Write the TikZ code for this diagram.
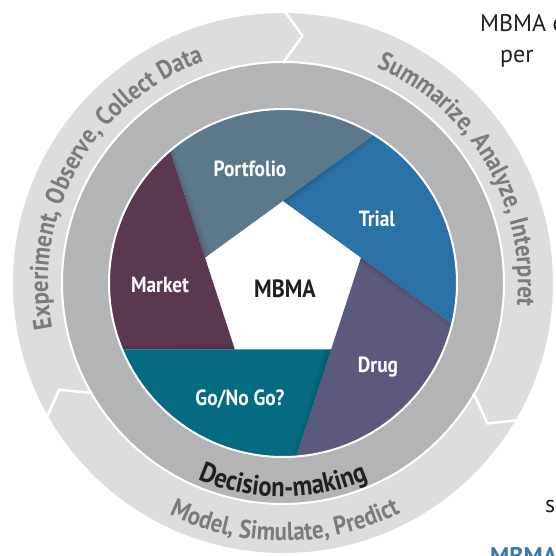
\documentclass[tikz,border=0pt]{standalone}
\usepackage{fontspec}
\setmainfont{PT Sans}
\newfontfamily\bladefont[FakeStretch=0.88]{PT Sans}
\usetikzlibrary{decorations.text}
\definecolor{lightring}{HTML}{DCDDDE}
\definecolor{grayring}{HTML}{B3B4B6}
\definecolor{portfolio}{HTML}{5B798A}
\definecolor{trial}{HTML}{2A71A6}
\definecolor{drug}{HTML}{5A5A7D}
\definecolor{gonogo}{HTML}{046B80}
\definecolor{market}{HTML}{5A3850}
\definecolor{ringtext}{HTML}{7A7B7D}
\definecolor{textblack}{HTML}{231F20}
\definecolor{mbmablue}{HTML}{3B78AE}
\newcommand{\ringfont}{\bladefont\fontsize{26}{26}\selectfont\bfseries\color{ringtext}}
\newcommand{\decfont}{\bladefont\fontsize{28}{28}\selectfont\bfseries\color{textblack}}

\begin{document}
\begin{tikzpicture}[x=1pt,y=1pt]
	\useasboundingbox (-283,-273) rectangle (272,283);
	\clip (-283,-273) rectangle (272,283);
	\tikzstyle{BladeLabel}=[white,inner sep=0,anchor=base,font=\bladefont\fontsize{22}{22}\selectfont\bfseries]
	\tikzstyle{SideText}=[inner sep=0,anchor=base west,text=textblack,font=\fontsize{24}{24}\selectfont]
	\tikzstyle{RingText}=[decorate,decoration={text along path,text align=center}]
	\fill[lightring] (0,0) circle (270);
	\filldraw[grayring,draw=white,line width=2] (0,0) circle (221);
	\fill[white] (0,0) circle (174);
	\foreach \v/\c in {162/portfolio,90/trial,18/drug,-54/gonogo,-126/market}{
		\fill[\c] (\v:82) -- (\v-103.6:174) arc[start angle=\v-103.6,end angle=\v-31.6,radius=174] -- cycle;
		\begin{scope}
			\clip (\v:82) -- (\v-103.6:174) arc[start angle=\v-103.6,end angle=\v-31.6,radius=174] -- cycle;
			\draw[black,opacity=.05,line width=12] (\v-31.6:180) -- (\v:82);
			\draw[black,opacity=.06,line width=6] (\v-31.6:180) -- (\v:82);
			\draw[black,opacity=.08,line width=2.5] (\v-31.6:180) -- (\v:82);
		\end{scope}
	}
	\draw[white,line width=2] (0,0) circle (174);
	\foreach \a in {90,-30,210}
		\draw[white,line width=2.5] (\a:274) -- (\a-4.5:248) -- (\a:220);
	\node[BladeLabel] (portfolio) at (-33,106) {Portfolio};
	\node[BladeLabel] (trial) at (94,56) {Trial};
	\node[BladeLabel] (market) at (-123,-10) {Market};
	\node[BladeLabel] (drug) at (95,-89) {Drug};
	\node[BladeLabel] (gonogo) at (-43,-122) {Go/No Go?};
	\node[BladeLabel,text=textblack,font=\bladefont\fontsize{25}{25}\selectfont\bfseries] (mbma) at (2,-15) {MBMA};
	\path[RingText,decoration={text={|\ringfont|Experiment, Observe, Collect Data}}] (200:235) arc[start angle=200,end angle=100.8,radius=235];
	\path[RingText,decoration={text={|\ringfont|Summarize, Analyze, Interpret}}] (80:235) arc[start angle=80,end angle=-19,radius=235];
	\path[RingText,decoration={text={|\ringfont|Model, Simulate, Predict}}] (220:258) arc[start angle=220,end angle=321,radius=258];
	\path[RingText,decoration={text={|\decfont|Decision-making}}] (220:214) arc[start angle=220,end angle=320,radius=214];
	\node[SideText] (intro) at (197,251) {MBMA c};
	\node[SideText] (intro2) at (217,220) {per};
	\node[SideText] (tail) at (262,-229) {s};
	\node[SideText,text=mbmablue,font=\fontsize{24}{24}\selectfont\bfseries] (heading) at (207,-281) {MBMA};
\end{tikzpicture}
\end{document}
